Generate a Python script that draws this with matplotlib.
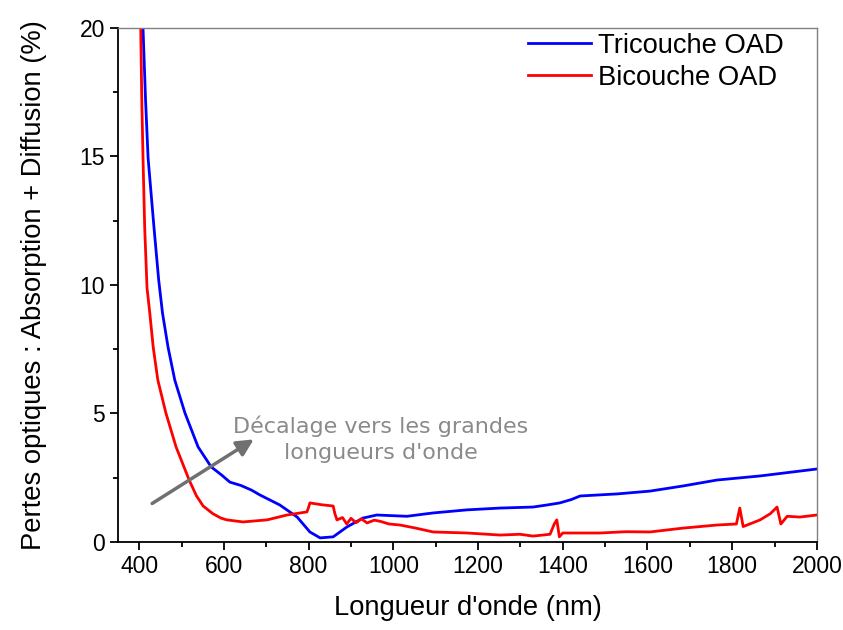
import numpy as np
import matplotlib
matplotlib.use("Agg")
import matplotlib.pyplot as plt
from matplotlib.ticker import MultipleLocator

plt.rcParams['font.family'] = ['Liberation Sans', 'DejaVu Sans']

# Tricouche OAD (blue)
tri_wl = [409, 415, 421, 435, 446, 455, 468, 484, 508, 539, 570, 595, 614, 640,
          665, 685, 732, 773, 803, 827, 858, 890, 928, 961, 1032, 1094, 1174,
          1252, 1330, 1363, 1393, 1420, 1441, 1528, 1606, 1684, 1764, 1866, 2000]
tri_val = [20.0, 17.2, 14.94, 12.22, 10.2, 8.91, 7.59, 6.30, 5.02, 3.70, 2.92,
           2.6, 2.33, 2.2, 2.02, 1.83, 1.44, 0.97, 0.39, 0.16, 0.2, 0.58, 0.93,
           1.05, 1.0, 1.13, 1.25, 1.32, 1.36, 1.44, 1.52, 1.65, 1.79, 1.87, 1.98,
           2.18, 2.41, 2.57, 2.84]

# Bicouche OAD (red)
bi_wl = [403.6, 406, 409, 413, 418.5, 425, 433, 444, 463, 487, 518, 535, 551,
         574, 593, 607, 645, 702, 749, 796, 800, 803, 830, 858, 862, 867, 880,
         890, 900, 912, 925, 938, 955, 970, 990, 1016, 1050, 1094, 1174, 1252,
         1299, 1330, 1370, 1380, 1386, 1392, 1400, 1488, 1550, 1606, 1684, 1764,
         1810, 1818, 1826, 1866, 1890, 1906, 1915, 1930, 1960, 2000]
bi_val = [20.0, 17.3, 14.94, 12.22, 9.88, 8.91, 7.59, 6.30, 5.02, 3.70, 2.41,
          1.8, 1.4, 1.1, 0.93, 0.86, 0.78, 0.86, 1.05, 1.17, 1.35, 1.52, 1.45,
          1.4, 1.1, 0.86, 0.95, 0.7, 0.92, 0.75, 0.9, 0.74, 0.85, 0.8, 0.7, 0.66,
          0.55, 0.39, 0.35, 0.27, 0.3, 0.23, 0.3, 0.7, 0.86, 0.2, 0.35, 0.35,
          0.4, 0.39, 0.54, 0.66, 0.7, 1.32, 0.6, 0.86, 1.1, 1.36, 0.7, 1.0,
          0.97, 1.05]

fig = plt.figure(figsize=(8.43, 6.30), dpi=100)
ax = fig.add_axes([0.140, 0.1397, 0.829, 0.8159])

ax.plot(tri_wl, tri_val, color='#0000ff', lw=2, label='Tricouche OAD')
ax.plot(bi_wl, bi_val, color='#ff0000', lw=2, label='Bicouche OAD')

ax.set_xlim(350, 2000)
ax.set_ylim(0, 20)
ax.xaxis.set_major_locator(MultipleLocator(200))
ax.xaxis.set_minor_locator(MultipleLocator(100))
ax.yaxis.set_major_locator(MultipleLocator(5))
ax.yaxis.set_minor_locator(MultipleLocator(2.5))
ax.tick_params(which='major', direction='out', length=6, width=1.3, labelsize=16.5)
ax.tick_params(which='minor', direction='out', length=3.5, width=1.3)

for s in ['left', 'bottom']:
    ax.spines[s].set_linewidth(1.3)
for s in ['top', 'right']:
    ax.spines[s].set_color('#808080')
    ax.spines[s].set_linewidth(1.0)

ax.set_xlabel("Longueur d'onde (nm)", fontsize=19.7, labelpad=12)
ax.set_ylabel("Pertes optiques : Absorption + Diffusion (%)", fontsize=19.7,
              labelpad=23)

ax.legend(loc='upper right', bbox_to_anchor=(0.988, 1.038), frameon=False,
          fontsize=19.7, handlelength=2.3, handletextpad=0.25, labelspacing=0.2)

ax.annotate('', xy=(676, 4.05), xytext=(425, 1.44),
            arrowprops=dict(arrowstyle='-|>', color='#707070', lw=2.5,
                            mutation_scale=25))
ax.text(971, 4.0, "Décalage vers les grandes\nlongueurs d'onde", color='#8a8a8a',
        fontsize=16, ha='center', va='center', family='DejaVu Sans',
        linespacing=1.4)

fig.savefig('out.png', dpi=100)
